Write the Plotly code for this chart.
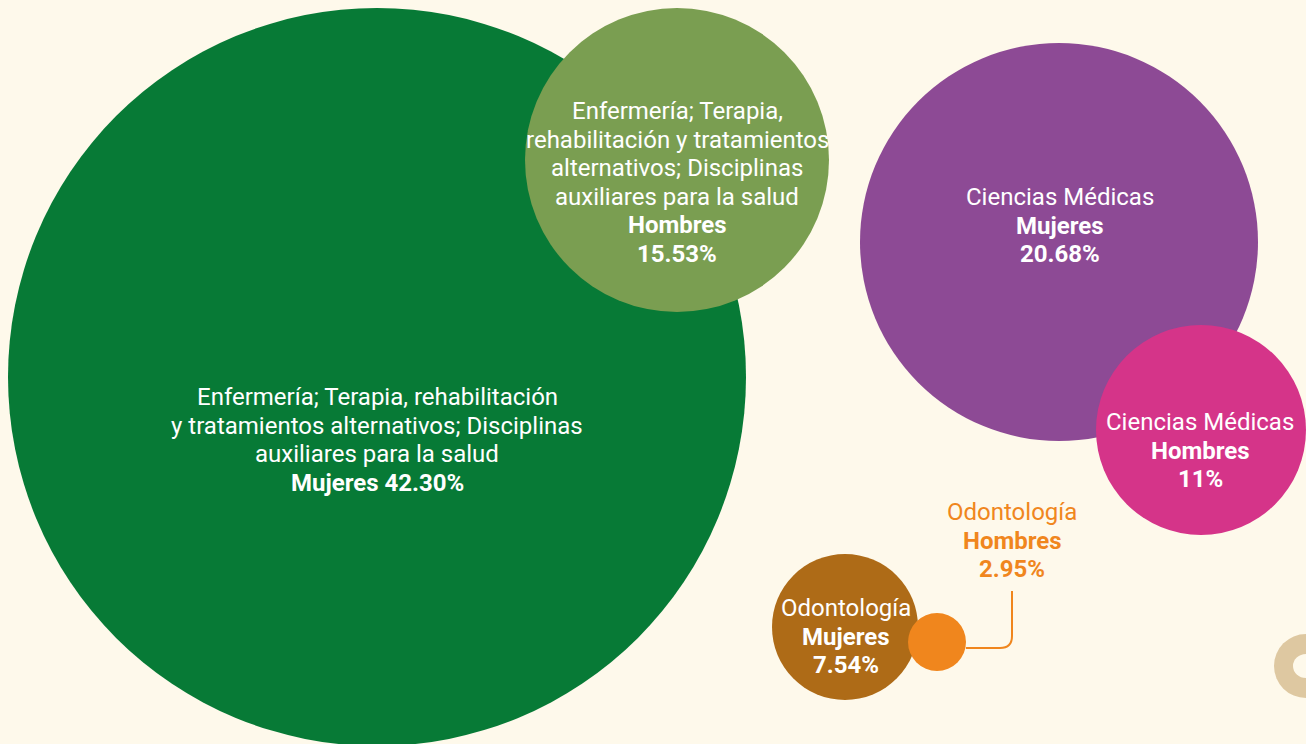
import plotly.graph_objects as go

# ---- data ----
areas = [
    ["Enfermería; Terapia, rehabilitación", "y tratamientos alternativos; Disciplinas", "auxiliares para la salud"],
    ["Enfermería; Terapia,", "rehabilitación y tratamientos", "alternativos; Disciplinas", "auxiliares para la salud"],
    ["Ciencias Médicas"],
    ["Ciencias Médicas"],
    ["Odontología"],
    ["Odontología"],
]
sexes = ["Mujeres", "Hombres", "Mujeres", "Hombres", "Mujeres", "Hombres"]
values = [42.30, 15.53, 20.68, 11, 7.54, 2.95]
value_labels = ["42.30%", "15.53%", "20.68%", "11%", "7.54%", "2.95%"]

# ---- layout (pixel-space positions, styles) ----
W, H = 1306, 744
BG = "#FEF9EB"
colors = ["#077A36", "#7A9E51", "#8D4A95", "#D53489", "#AE6B17", "#F0861D"]
cx = [377, 677, 1059, 1201, 845, 937]
cy = [377, 160, 242, 430, 627, 642]
radii = [369, 152, 199, 105, 73, 29]
label_x = [377, 677, 1060, 1200, 846, 1012]
label_top = [397, 111, 197, 422, 608, 512]   # centre of first text line
LINE = 28.5
FONT_SIZE = 24
label_colors = ["white", "white", "white", "white", "white", "#F0861D"]

fig = go.Figure()
fig.add_trace(go.Scatter(x=cx, y=cy, mode="markers", marker=dict(size=1, opacity=0),
                         hoverinfo="skip", showlegend=False))

shapes = []
for i, v in enumerate(values):
    r = radii[i]
    shapes.append(dict(type="circle", xref="x", yref="y",
                       x0=cx[i] - r, x1=cx[i] + r, y0=cy[i] - r, y1=cy[i] + r,
                       fillcolor=colors[i], line=dict(width=0), layer="below"))

# decorative ring on right edge
shapes.append(dict(type="circle", xref="x", yref="y", x0=1306 - 32, x1=1306 + 32,
                   y0=666 - 32, y1=666 + 32, fillcolor="#DEC8A1", line=dict(width=0), layer="below"))
shapes.append(dict(type="circle", xref="x", yref="y", x0=1306 - 13, x1=1306 + 13,
                   y0=666 - 12, y1=666 + 12, fillcolor=BG, line=dict(width=0), layer="below"))

# connector for the small orange bubble
shapes.append(dict(type="path", xref="x", yref="y",
                   path="M 966 648 L 1000 648 Q 1012 648 1012 636 L 1012 591",
                   line=dict(color="#F0861D", width=2), fillcolor="rgba(0,0,0,0)"))

annotations = []
for i in range(len(values)):
    lines = list(areas[i])
    if i == 0:
        lines.append(f"<b>{sexes[i]} {value_labels[i]}</b>")
    else:
        lines.append(f"<b>{sexes[i]}</b>")
        lines.append(f"<b>{value_labels[i]}</b>")
    for k, t in enumerate(lines):
        annotations.append(dict(x=label_x[i], y=label_top[i] + k * LINE, xref="x", yref="y",
                                text=t, showarrow=False, xanchor="center", yanchor="middle",
                                font=dict(family="Roboto", size=FONT_SIZE, color=label_colors[i])))

fig.update_layout(
    width=W, height=H, margin=dict(l=0, r=0, t=0, b=0),
    paper_bgcolor=BG, plot_bgcolor=BG,
    xaxis=dict(range=[0, W], visible=False, fixedrange=True),
    yaxis=dict(range=[H, 0], visible=False, fixedrange=True),
    shapes=shapes, annotations=annotations, showlegend=False,
)

fig.write_html("out.html", config={"displayModeBar": False})

with open("out.html", encoding="utf-8") as f:
    html = f.read()
html = html.replace("<head>", "<head><style>html,body{margin:0;padding:0;overflow:hidden;background:%s}</style>" % BG, 1)
with open("out.html", "w", encoding="utf-8") as f:
    f.write(html)
